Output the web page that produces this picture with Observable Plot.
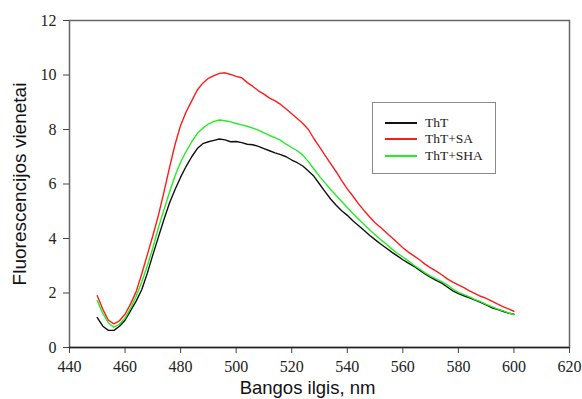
<!DOCTYPE html>
<html>
<head>
<meta charset="utf-8">
<script src="https://cdn.jsdelivr.net/npm/d3@7"></script>
<script src="https://cdn.jsdelivr.net/npm/@observablehq/plot@0.6"></script>
<style>
  html, body { margin: 0; padding: 0; background: #fff; }
  #wrap { position: relative; width: 582px; height: 399px; overflow: hidden; }
  #legend {
    position: absolute; left: 372px; top: 102px; width: 124px; height: 72px;
    border: 1.5px solid #8a8a8a; background: #fff; box-sizing: border-box;
    font-family: "Liberation Serif", "Times New Roman", serif; font-size: 13.5px; color: #222;
  }
  .item { position: absolute; left: 12px; height: 16px; display: flex; align-items: center; }
  .item .sw { display: block; width: 32px; height: 1.5px; margin-right: 8px; }
  #wrap svg text, #wrap svg g { font-family: "Liberation Serif", "Times New Roman", serif !important; }
  #wrap svg text.axlabel { font-family: "Liberation Sans", Arial, sans-serif !important; }
</style>
</head>
<body>
<div id="wrap"></div>
<script>
const wavelengths = d3.range(450, 601, 2);

const thT = [1.10,0.78,0.63,0.63,0.78,1.00,1.35,1.70,2.12,2.72,3.40,4.05,4.70,5.30,5.80,6.25,
  6.65,7.00,7.30,7.48,7.55,7.60,7.65,7.62,7.55,7.56,7.52,7.46,7.44,7.38,7.30,7.22,7.14,7.08,7.00,
  6.88,6.78,6.66,6.48,6.28,6.00,5.72,5.45,5.22,5.02,4.85,4.65,4.48,4.30,4.12,3.96,3.80,3.65,3.50,
  3.36,3.22,3.10,2.98,2.84,2.70,2.57,2.46,2.36,2.22,2.08,1.98,1.90,1.82,1.74,1.66,1.56,1.46,1.40,
  1.33,1.26,1.22];

const thTSA = [1.90,1.40,1.00,0.87,0.98,1.22,1.60,2.05,2.70,3.40,4.10,4.85,5.70,6.60,7.45,8.15,
  8.65,9.05,9.45,9.70,9.88,9.98,10.06,10.08,10.02,9.95,9.90,9.72,9.58,9.42,9.30,9.15,9.05,8.92,8.75,
  8.58,8.40,8.22,8.00,7.66,7.36,7.05,6.75,6.45,6.12,5.82,5.56,5.28,5.03,4.80,4.58,4.40,4.22,4.04,
  3.85,3.66,3.50,3.36,3.22,3.06,2.92,2.80,2.67,2.52,2.40,2.30,2.20,2.08,1.98,1.88,1.80,1.70,1.60,
  1.50,1.42,1.33];

const thTSHA = [1.72,1.25,0.90,0.75,0.85,1.08,1.45,1.88,2.40,3.00,3.65,4.40,5.05,5.70,6.30,6.80,
  7.20,7.55,7.85,8.05,8.20,8.30,8.35,8.32,8.28,8.22,8.17,8.12,8.05,7.98,7.88,7.78,7.70,7.60,7.46,
  7.34,7.22,7.06,6.82,6.55,6.28,6.04,5.80,5.58,5.36,5.14,4.92,4.72,4.52,4.32,4.14,3.96,3.80,3.62,
  3.46,3.32,3.18,3.02,2.88,2.74,2.62,2.52,2.42,2.30,2.14,2.02,1.94,1.86,1.76,1.68,1.58,1.50,1.42,
  1.35,1.27,1.21];

const seriesNames = ["ThT", "ThT+SA", "ThT+SHA"];
const seriesColors = ["#111111", "#ff1a1a", "#22ee22"];
const xTicks = [440, 460, 480, 500, 520, 540, 560, 580, 600, 620];
const yTicks = [0, 2, 4, 6, 8, 10, 12];
const xLabel = "Bangos ilgis, nm";
const yLabel = "Fluorescencijos vienetai";

const allValues = [thT, thTSA, thTSHA];
const rows = [];
seriesNames.forEach((name, s) => {
  allValues[s].forEach((v, i) => rows.push({wl: wavelengths[i], v, series: name}));
});

const chart = Plot.plot({
  width: 582, height: 399,
  marginLeft: 69, marginRight: 13, marginTop: 20, marginBottom: 52,
  style: {background: "#fff", color: "#222", overflow: "visible"},
  x: {domain: [440, 620]},
  y: {domain: [0, 12]},
  color: {domain: seriesNames, range: seriesColors},
  marks: [
    Plot.frame({stroke: "#666", strokeWidth: 1.5}),
    Plot.axisX({ticks: xTicks, tickSize: 6, tickPadding: 7, fontSize: 16, label: null, stroke: "#444"}),
    Plot.axisY({ticks: yTicks, tickSize: 6, tickPadding: 7, fontSize: 16, label: null, stroke: "#444"}),
    Plot.ruleY([0], {stroke: "#222", strokeWidth: 1.5}),
    Plot.line(rows, {x: "wl", y: "v", z: "series", stroke: "series", strokeWidth: 1.4, curve: "linear"}),
    Plot.text([xLabel], {frameAnchor: "bottom", dy: 46, dx: -12, fontSize: 18.5, fill: "#111"}),
    Plot.text([yLabel], {frameAnchor: "left", textAnchor: "middle", rotate: -90, dx: -50, fontSize: 19, fill: "#111"})
  ]
});

chart.querySelectorAll("text").forEach(t => {
  const s = t.textContent.trim();
  if (s === xLabel || s === yLabel) t.classList.add("axlabel");
});

const wrap = document.getElementById("wrap");
wrap.appendChild(chart);

const legend = document.createElement("div");
legend.id = "legend";
const tops = [12, 28, 45];
seriesNames.forEach((name, i) => {
  const it = document.createElement("div");
  it.className = "item";
  it.style.top = tops[i] + "px";
  const sw = document.createElement("span");
  sw.className = "sw";
  sw.style.background = seriesColors[i];
  const t = document.createElement("span");
  t.textContent = name;
  it.appendChild(sw); it.appendChild(t);
  legend.appendChild(it);
});
wrap.appendChild(legend);
</script>
</body>
</html>
